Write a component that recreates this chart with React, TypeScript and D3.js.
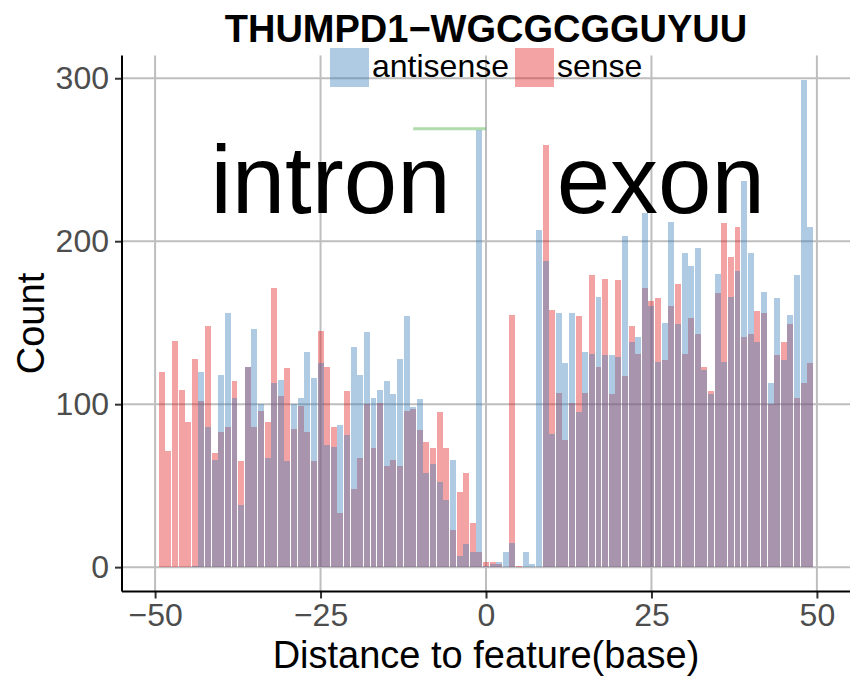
import { useEffect, useMemo, useRef } from "react";
import * as d3 from "d3";
import React from "react";

const WIDTH = 850;
const HEIGHT = 676;
const MARGIN = { top: 55.5, right: 0, bottom: 84.5, left: 122 };
const FONT = "'Liberation Sans', Arial, Helvetica, sans-serif";

const TITLE = "THUMPD1−WGCGCGGUYUU";
const X_LABEL = "Distance to feature(base)";
const Y_LABEL = "Count";

// one bar per base, -50 .. 50
const POSITIONS = d3.range(-50, 51);

const SENSE = [
  0, 120, 71, 139, 109, 89, 128, 102, 148, 70, 83, 86, 114, 65, 123, 86, 96, 89, 171, 105, 122,
  85, 99, 83, 65, 145, 123, 86, 33, 108, 48, 67, 100, 73, 101, 62, 66, 62, 96, 97, 84,
  77, 73, 95, 73, 23, 46, 58, 27, 9,
  3,
  3, 2, 0, 155, 1, 0, 0, 0, 259, 158, 107, 78, 101, 154, 107, 179, 123, 177, 106, 176,
  117, 148, 131, 171, 163, 165, 127, 160, 174, 131, 153, 143, 123, 108, 168, 211, 190, 209, 141, 143,
  157, 156, 100, 130, 138, 149, 104, 113, 125, 0,
];

const ANTISENSE = [
  0, 0, 0, 0, 0, 0, 1, 120, 86, 66, 118, 156, 104, 38, 123, 146, 100, 67, 113, 115, 65,
  100, 104, 132, 116, 125, 75, 74, 87, 81, 135, 118, 144, 104, 109, 114, 106, 128, 154, 98, 103,
  58, 63, 52, 41, 66, 7, 14, 9, 268,
  1,
  2, 3, 9, 15, 0, 9, 2, 207, 188, 82, 156, 125, 156, 95, 132, 131, 166, 130, 130, 129,
  203, 138, 141, 217, 160, 126, 150, 212, 149, 193, 185, 196, 121, 106, 180, 126, 166, 182, 237, 193,
  138, 169, 113, 165, 127, 155, 179, 299, 209, 0,
];

const X_TICKS = [-50, -25, 0, 25, 50];
const Y_TICKS = [0, 100, 200, 300];

const LEGEND_NAMES = ["antisense", "sense"];
const COLORS: Record<string, string> = { antisense: "#377EB8", sense: "#E41A1C" };
const DRAW_ORDER = ["sense", "antisense"];

const REGION_NAMES = ["intron", "exon"];
const REGION_X = [-23.5, 26.4];
const REGION_Y = 217;

const MARK_FROM = -11;
const MARK_TO = 0;
const MARK_Y = 269;

export default function App() {
  const axesRef = useRef(null);
  const boundsWidth = WIDTH - MARGIN.left - MARGIN.right;
  const boundsHeight = HEIGHT - MARGIN.top - MARGIN.bottom;

  useEffect(() => {
    document.body.style.margin = "0";
  }, []);

  const xScale = useMemo(
    () => d3.scaleLinear().domain([-55, 55]).range([0, boundsWidth]),
    [boundsWidth]
  );
  const yScale = useMemo(
    () => d3.scaleLinear().domain([-14.95, 313.95]).range([boundsHeight, 0]),
    [boundsHeight]
  );

  const series = useMemo(() => {
    const table: Record<string, number[]> = { sense: SENSE, antisense: ANTISENSE };
    return DRAW_ORDER.map((name) => ({
      name,
      rows: POSITIONS.map((pos, i) => ({ pos, count: table[name][i] })),
    }));
  }, []);

  // axes drawn with d3
  useEffect(() => {
    const g = d3.select(axesRef.current);
    g.selectAll("*").remove();

    const xAxis = g
      .append("g")
      .attr("transform", `translate(0,${boundsHeight})`)
      .call(d3.axisBottom(xScale).tickValues(X_TICKS).tickSize(7).tickPadding(5).tickFormat((d) => d3.format("")(d as number).replace("-", "−")));
    const yAxis = g
      .append("g")
      .call(d3.axisLeft(yScale).tickValues(Y_TICKS).tickSize(7).tickPadding(6));

    [xAxis, yAxis].forEach((ax) => {
      ax.select(".domain").remove();
      ax.selectAll(".tick line").attr("stroke", "#333333").attr("stroke-width", 2);
      ax.selectAll(".tick text")
        .attr("fill", "#4D4D4D")
        .style("font-size", "32px")
        .style("font-family", FONT);
    });

    g.append("line")
      .attr("x1", 0).attr("x2", 0).attr("y1", 0).attr("y2", boundsHeight)
      .attr("stroke", "black").attr("stroke-width", 2);
    g.append("line")
      .attr("x1", 0).attr("x2", boundsWidth).attr("y1", boundsHeight).attr("y2", boundsHeight)
      .attr("stroke", "black").attr("stroke-width", 2);

    g.append("text")
      .attr("text-anchor", "middle")
      .attr("x", boundsWidth / 2)
      .attr("y", boundsHeight + 76)
      .style("font-size", "38px")
      .style("font-family", FONT)
      .text(X_LABEL);

    g.append("text")
      .attr("text-anchor", "middle")
      .attr("transform", `translate(${-MARGIN.left + 44},${boundsHeight / 2}) rotate(-90)`)
      .style("font-size", "38px")
      .style("font-family", FONT)
      .text(Y_LABEL);
  }, [xScale, yScale, boundsHeight, boundsWidth]);

  const bw = xScale(0.9) - xScale(0);

  const gridX = X_TICKS.map((t) => (
    <line key={`gx${t}`} x1={xScale(t)} x2={xScale(t)} y1={0} y2={boundsHeight} stroke="#BEBEBE" strokeWidth={2} />
  ));
  const gridY = Y_TICKS.map((t) => (
    <line key={`gy${t}`} x1={0} x2={boundsWidth} y1={yScale(t)} y2={yScale(t)} stroke="#BEBEBE" strokeWidth={2} />
  ));

  const allRects = series.map((s) =>
    s.rows
      .filter((r) => r.count > 0)
      .map((r) => (
        <rect
          key={`${s.name}_${r.pos}`}
          x={xScale(r.pos) - bw / 2}
          width={bw}
          y={yScale(r.count)}
          height={yScale(0) - yScale(r.count)}
          fill={COLORS[s.name]}
          fillOpacity={0.4}
          shapeRendering="crispEdges"
        />
      ))
  );

  return (
    <svg width={WIDTH} height={HEIGHT} style={{ display: "block", background: "white" }}>
      <g transform={`translate(${MARGIN.left},${MARGIN.top})`}>
        {gridX}
        {gridY}
        {allRects}
        <line
          x1={xScale(MARK_FROM)}
          x2={xScale(MARK_TO)}
          y1={yScale(MARK_Y)}
          y2={yScale(MARK_Y)}
          stroke="#4DAF4A"
          strokeOpacity={0.45}
          strokeWidth={3}
        />
        {REGION_NAMES.map((name, i) => (
          <text
            key={name}
            x={xScale(REGION_X[i])}
            y={yScale(REGION_Y)}
            textAnchor="middle"
            fontSize={96}
            fontFamily={FONT}
          >
            {name}
          </text>
        ))}
      </g>
      <g ref={axesRef} transform={`translate(${MARGIN.left},${MARGIN.top})`} />
      <text x={486} y={42} textAnchor="middle" fontSize={38} fontWeight="bold" fontFamily={FONT}>
        {TITLE}
      </text>
      <g>
        {LEGEND_NAMES.map((name, i) => {
          const x0 = [330, 515][i];
          return (
            <g key={name} transform={`translate(${x0},48)`}>
              <rect width={39} height={39} fill={COLORS[name]} fillOpacity={0.4} />
              <text x={42} y={29} fontSize={32} fontFamily={FONT}>
                {name}
              </text>
            </g>
          );
        })}
      </g>
    </svg>
  );
}
